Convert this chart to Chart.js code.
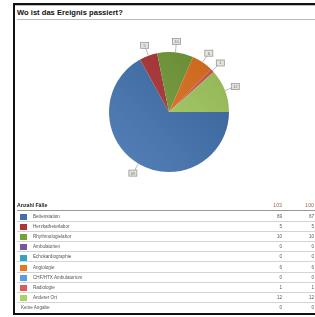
<!DOCTYPE html>
<html>
<head>
<meta charset="utf-8">
<script src="https://cdn.jsdelivr.net/npm/chart.js@4"></script>
<style>
  body { margin: 0; width: 315px; height: 317px; overflow: hidden; background: #fff; font-family: 'Liberation Sans', Arial, sans-serif; position: relative; }
  #frame { position: absolute; left: 13px; top: 3px; width: 320px; height: 308px; border: 2px solid #111; border-right: none; box-shadow: inset 0 1px 0 #bbb; }
  #title { position: absolute; left: 17px; top: 7px; width: 300px; height: 12px; line-height: 12px; font-size: 7.6px; font-weight: bold; color: #111; border-bottom: 1px solid #bbb; }
  #pie { position: absolute; left: 79px; top: 22px; }
  .row { position: absolute; left: 17px; width: 300px; height: 10.1px; line-height: 10.1px; font-size: 4.6px; color: #555; border-bottom: 1px solid #d4d4d4; box-sizing: border-box; }
  .row .sw { position: absolute; left: 3px; top: 2.2px; width: 7px; height: 6px; }
  .row .lbl { position: absolute; left: 16px; }
  .row .n1 { position: absolute; right: 35px; }
  .row .n2 { position: absolute; right: 3px; }
  .head { position: absolute; left: 17px; top: 200px; width: 300px; height: 11px; line-height: 10px; font-size: 5.2px; font-weight: bold; color: #222; border-bottom: 1px solid #999; box-sizing: border-box; }
  .head .n1, .head .n2 { position: absolute; font-weight: normal; color: #9a6a4a; }
  .head .n1 { right: 35px; }
  .head .n2 { right: 3px; }
</style>
</head>
<body>
<div id="frame"></div>
<div id="title">Wo ist das Ereignis passiert?</div>
<canvas id="pie" width="180" height="180"></canvas>
<div id="table"></div>
<script>
let categories = ['Bettenstation', 'Herzkatheterlabor', 'Rhythmologielabor', 'Ambulatorien', 'Echokardiographie', 'Angiologie', 'CHF/HTX Ambulatorium', 'Radiologie', 'Anderer Ort'];
let counts = [69, 5, 10, 0, 0, 6, 0, 1, 12];
let percents = [67, 5, 10, 0, 0, 6, 0, 1, 12];
let colorHex = ['#3f71b0', '#b03535', '#76a03a', '#7b55a3', '#33a5bd', '#e8761f', '#5b9ce3', '#df5a5a', '#a9d163'];
let noAnswerLabel = 'Keine Angabe';
let noAnswerCount = 0;
let noAnswerPercent = 0;
let headerLabel = 'Anzahl Fälle';
let totalCount = 103;
let totalPercent = 100;

// table below the pie
let table = document.getElementById('table');
let head = document.createElement('div');
head.className = 'head';
head.innerHTML = headerLabel + '<span class="n1">' + totalCount + '</span><span class="n2">' + totalPercent + '</span>';
table.appendChild(head);

let rows = categories.map((c, i) => [c, counts[i], percents[i], colorHex[i]]);
rows.push([noAnswerLabel, noAnswerCount, noAnswerPercent, null]);
rows.forEach((r, i) => {
  let div = document.createElement('div');
  div.className = 'row';
  div.style.top = (212 + i * 10.1) + 'px';
  if (r[3]) {
    div.innerHTML = '<span class="sw" style="background:' + r[3] + '"></span><span class="lbl">' + r[0] + '</span>';
  } else {
    div.innerHTML = '<span class="lbl" style="left:4px">' + r[0] + '</span>';
    div.style.borderBottom = 'none';
  }
  div.innerHTML += '<span class="n1">' + r[1] + '</span><span class="n2">' + r[2] + '</span>';
  table.appendChild(div);
});

function shade(hex, f) {
  let n = parseInt(hex.slice(1), 16);
  let ch = [(n >> 16) & 255, (n >> 8) & 255, n & 255].map(v => {
    v = f > 0 ? v + (255 - v) * f : v * (1 + f);
    return Math.round(v);
  });
  return 'rgb(' + ch.join(',') + ')';
}

// little value boxes around the pie
const valueBoxes = {
  id: 'valueBoxes',
  afterDatasetsDraw(chart) {
    const c = chart.ctx;
    const meta = chart.getDatasetMeta(0);
    meta.data.forEach((arc, i) => {
      const v = chart.data.datasets[0].data[i];
      if (!v) return;
      const mid = (arc.startAngle + arc.endAngle) / 2;
      const r = arc.outerRadius;
      const cos = Math.cos(mid), sin = Math.sin(mid);
      const bx = arc.x + cos * (r + 11), by = arc.y + sin * (r + 11);
      c.save();
      c.strokeStyle = '#aaa';
      c.lineWidth = 0.8;
      c.beginPath();
      c.moveTo(arc.x + cos * r, arc.y + sin * r);
      c.lineTo(arc.x + cos * (r + 8), arc.y + sin * (r + 8));
      c.stroke();
      c.fillStyle = '#e4e4dc';
      c.strokeStyle = '#999';
      c.fillRect(bx - 4, by - 3, 8, 6);
      c.strokeRect(bx - 4, by - 3, 8, 6);
      c.fillStyle = '#777';
      c.font = '4px "Liberation Sans"';
      c.textAlign = 'center';
      c.textBaseline = 'middle';
      c.fillText(String(v), bx, by + 0.3);
      c.restore();
    });
  }
};

let ctx = document.getElementById('pie').getContext('2d');
const pieChart = new Chart(ctx,
  {
    type: 'pie',
    data:
    {
      datasets:
        [{
          data: counts,
          backgroundColor: (context) => {
            const area = context.chart.chartArea;
            const base = colorHex[context.dataIndex];
            if (!area) return base;
            const g = context.chart.ctx.createLinearGradient(area.right, area.top, area.left, area.bottom);
            g.addColorStop(0, shade(base, -0.15));
            g.addColorStop(1, shade(base, 0.12));
            return g;
          },
          borderWidth: 0,
          hoverOffset: 0
        }],
      labels: categories
    },
    plugins: [valueBoxes],
    options:
    {
      responsive: false,
      animation: false,
      rotation: 90,
      layout: { padding: 30 },
      plugins:
      {
        legend: { display: false },
        tooltip: { enabled: false }
      }
    }
  })
</script>
</body>
</html>
